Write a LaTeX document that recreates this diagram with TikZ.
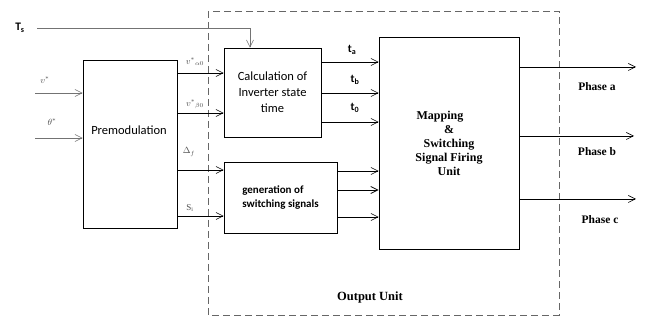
\documentclass[tikz,border=0pt]{standalone}
\usepackage{fontspec}
\setmainfont{Liberation Serif}
\newfontfamily\calibri{Carlito}
\usepackage{tikz}
\usetikzlibrary{arrows.meta, positioning, calc}

\begin{document}
\begin{tikzpicture}[
		x=1pt, y=-1pt,
		txt/.style={inner sep=0pt, align=center,
			font=\calibri\fontsize{12.5}{16}\selectfont},
		blk/.style={txt, draw, thick},
		sig/.style={-{Straight Barb[length=7pt, width=7pt]}, semithick},
		insig/.style={sig, black!55},
		lab/.style={inner sep=1pt, font=\fontsize{9}{10}\selectfont, black!70},
		tlab/.style={inner sep=1pt, font=\calibri\bfseries\fontsize{11.5}{12}\selectfont},
		plab/.style={inner sep=1pt, font=\bfseries\fontsize{11.5}{13}\selectfont}
		]
		
		\useasboundingbox (0,0) rectangle (646,320);
		
		% Output unit frame
		\draw[black!60, thick, dash pattern=on 7pt off 4pt] (208,11) rectangle (559,315);
		\node[plab, font=\bfseries\fontsize{12.5}{14}\selectfont] (outlab) at (370,297) {Output Unit};
		
		% Blocks
		\node[blk, minimum width=94pt, minimum height=168pt] (premod) at (130,144) {};
		\node[txt] (premodtxt) at (129,130) {Premodulation};
		\node[blk, minimum width=97pt, minimum height=89pt] (calc) at (272.5,92.5)
		{Calculation of\\Inverter state\\time};
		\node[blk, semithick, align=left, minimum width=113pt, minimum height=71pt,
		font=\calibri\bfseries\fontsize{11}{14}\selectfont] (gen) at (280.5,197.5)
		{generation of\\switching signals};
		\node[blk, minimum width=140pt, minimum height=212pt,
		font=\bfseries\fontsize{12}{14}\selectfont] (map) at (449,143)
		{\hspace*{-18pt}Mapping\\ \&\\Switching\\Signal Firing\\Unit};
		
		% Sampling time
		\node[tlab] (Ts) at (20,28) {T\textsubscript{s}};
		\coordinate (tsin) at (37,28);
		\coordinate (tsend) at (250,28);
		\draw[insig] (tsin) -- (tsend) -- (tsend |- calc.north);
		
		% Reference inputs
		\node[lab] (vref) at (45,80) {$v^{*}$};
		\node[lab] (thref) at (52,122) {$\theta^{*}$};
		\coordinate (vin) at (35,93);
		\coordinate (thin) at (35,138);
		\draw[insig] (vin) -- (vin -| premod.west);
		\draw[insig] (thin) -- (thin -| premod.west);
		
		% Premodulation outputs
		\node[lab] (valpha) at (195,62) {$v^{*}{}_{\alpha0}$};
		\node[lab] (vbeta) at (195,104) {$v^{*}{}_{\beta0}$};
		\node[lab] (delta) at (189,152) {$\Delta_f$};
		\node[lab] (si) at (190,208) {S\textsubscript{i}};
		\draw[sig] (premod.east |- 0,73) -- (calc.west |- 0,73);
		\draw[sig] (premod.east |- 0,113) -- (calc.west |- 0,113);
		\draw[sig] (premod.east |- 0,170) -- (gen.west |- 0,170);
		\draw[sig] (premod.east |- 0,216) -- (gen.west |- 0,216);
		
		% State times
		\node[tlab] (ta) at (352,50) {t\textsubscript{a}};
		\node[tlab] (tb) at (355,80) {t\textsubscript{b}};
		\node[tlab] (tz) at (355,108) {t\textsubscript{0}};
		\draw[sig] (calc.east |- 0,62) -- (map.west |- 0,62);
		\draw[sig] (calc.east |- 0,93) -- (map.west |- 0,93);
		\draw[sig] (calc.east |- 0,122) -- (map.west |- 0,122);
		
		% Switching signals
		\draw[sig] (gen.east |- 0,171) -- (map.west |- 0,171);
		\draw[sig, thick] (gen.east |- 0,190) -- (map.west |- 0,190);
		\draw[sig] (gen.east |- 0,217) -- (map.west |- 0,217);
		
		% Phase outputs
		\coordinate (pa) at (636,67);
		\coordinate (pb) at (634,136);
		\coordinate (pc) at (636,199);
		\draw[sig] (map.east |- pa) -- (pa);
		\draw[sig] (map.east |- pb) -- (pb);
		\draw[sig] (map.east |- pc) -- (pc);
		\node[plab] (pha) at (597,87) {Phase a};
		\node[plab] (phb) at (597,152) {Phase b};
		\node[plab] (phc) at (600,220) {Phase c};
		
	\end{tikzpicture}
\end{document}
